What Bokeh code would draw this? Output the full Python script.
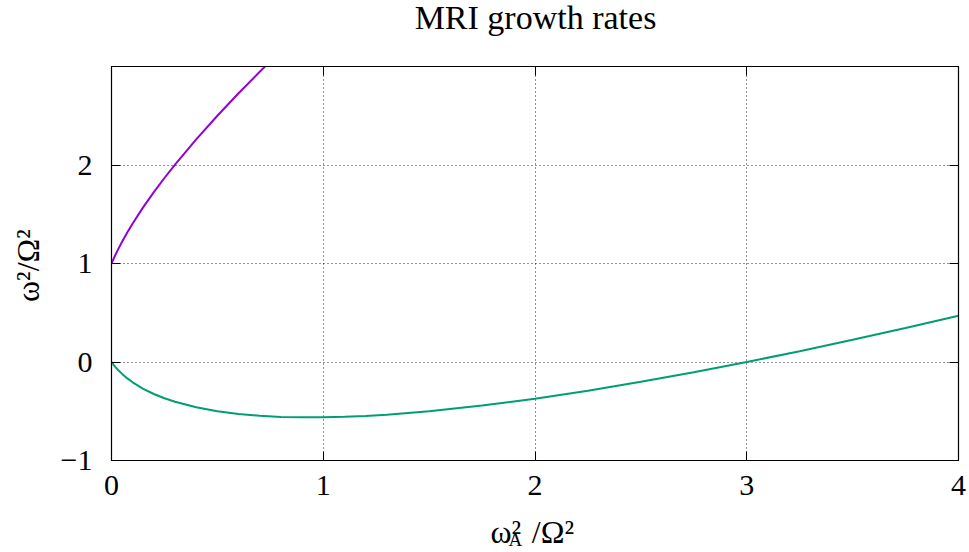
import math
from bokeh.plotting import figure
from bokeh.models import Range1d, FixedTicker, LinearAxis, Label
from bokeh.embed import file_html
from bokeh.resources import INLINE

# ---- data ----
x_upper = [0, 0.01, 0.02, 0.03, 0.05, 0.075, 0.1, 0.15, 0.2, 0.25, 0.3, 0.4, 0.5, 0.6, 0.7, 0.75]
y_upper = [1.0, 1.0485, 1.0945, 1.1383, 1.2208, 1.3166, 1.4062, 1.5720, 1.7247, 1.8680, 2.0042,
           2.2601, 2.5, 2.7279, 2.9464, 3.0528]

x_lower = [0, 0.01, 0.02, 0.03, 0.05, 0.075, 0.1, 0.15, 0.2, 0.25, 0.3, 0.4, 0.5, 0.6, 0.7, 0.8,
           0.9, 1.0, 1.1, 1.2, 1.3, 1.5, 1.75, 2.0, 2.25, 2.5, 2.75, 3.0, 3.25, 3.5, 3.75, 4.0]
y_lower = [0, -0.0285, -0.0545, -0.0783, -0.1208, -0.1666, -0.2062, -0.2720, -0.3247, -0.3680,
           -0.4042, -0.4601, -0.5, -0.5279, -0.5464, -0.5574, -0.5621, -0.5616, -0.5564, -0.5472,
           -0.5345, -0.5, -0.4426, -0.3723, -0.2914, -0.2016, -0.1041, 0.0, 0.1099, 0.2251,
           0.3449, 0.4689]

x_ticks = [0, 1, 2, 3, 4]
y_ticks = [-1, 0, 1, 2]
x_grid = [1, 2, 3]
y_grid = [0, 1, 2]

title_text = "MRI growth rates"
y_label_text = "\u03c9\u00b2/\u03a9\u00b2"
x_label_main = "\u03c9\u00b2\u2004/\u03a9\u00b2"
x_label_sub = "A"

FONT = "Liberation Serif"
X_MIN, X_MAX = 0, 4
Y_MIN, Y_MAX = -1, 3

W, H = 969, 552
BL, BR, BT, BB = 111, 11, 66, 92

p = figure(width=W, height=H, output_backend="svg", toolbar_location=None,
           x_range=Range1d(X_MIN, X_MAX), y_range=Range1d(Y_MIN, Y_MAX),
           min_border_left=BL, min_border_right=BR, min_border_top=BT, min_border_bottom=BB,
           background_fill_color="white", border_fill_color="white")
p.outline_line_color = "black"
p.outline_line_width = 1.2

# axes
for ax in list(p.xaxis) + list(p.yaxis):
    ax.major_tick_in = 9
    ax.major_tick_out = 0
    ax.minor_tick_in = 0
    ax.minor_tick_out = 0
    ax.axis_line_color = "black"
    ax.major_tick_line_color = "black"
    ax.major_label_text_font = FONT
    ax.major_label_text_font_size = "30px"
    ax.major_label_text_color = "black"

p.xaxis.ticker = FixedTicker(ticks=x_ticks)
p.yaxis.ticker = FixedTicker(ticks=y_ticks)
p.yaxis.major_label_overrides = {-1: "\u22121"}
p.xaxis.major_label_standoff = 15
p.yaxis.major_label_standoff = 19

# mirrored ticks (no labels) on top and right
top_ax = LinearAxis(ticker=FixedTicker(ticks=x_ticks), major_tick_in=9, major_tick_out=0,
                    minor_tick_in=0, minor_tick_out=0, major_label_text_font_size="0px",
                    major_label_text_color=None, major_label_standoff=0,
                    axis_line_color="black")
right_ax = LinearAxis(ticker=FixedTicker(ticks=y_ticks), major_tick_in=9, major_tick_out=0,
                      minor_tick_in=0, minor_tick_out=0, major_label_text_font_size="0px",
                      major_label_text_color=None, major_label_standoff=0,
                      axis_line_color="black")
p.add_layout(top_ax, "above")
p.add_layout(right_ax, "right")

# grid
p.xgrid.ticker = FixedTicker(ticks=x_grid)
p.ygrid.ticker = FixedTicker(ticks=y_grid)
for g in (p.xgrid[0], p.ygrid[0]):
    g.grid_line_color = "black"
    g.grid_line_alpha = 0.85
    g.grid_line_width = 1
    g.grid_line_dash = "1 3"

# curves
p.line(x_upper, y_upper, line_color="#9400D3", line_width=2)
p.line(x_lower, y_lower, line_color="#009E73", line_width=2)


def canvas_label(side, x, y, txt, size, align="left", angle=0.0, italic=False):
    p.add_layout(Label(x=x, y=y, x_units="canvas", y_units="canvas", text=txt,
                       text_align=align, text_baseline="alphabetic", text_font=FONT,
                       text_font_size=size, text_color="black", angle=angle,
                       text_font_style="italic" if italic else "normal"), side)


# title (top panel)
canvas_label("above", 535, 17, title_text, "34px", align="center")
# x-axis label: main part (bottom panel) and subscript A (top panel, drawn at bottom)
canvas_label("below", 490, 531, x_label_main, "32px")
canvas_label("above", 508, 539, x_label_sub, "19px")
# y-axis label, rotated (left panel)
canvas_label("left", 27, 265, y_label_text, "32px", align="center", angle=math.pi / 2)

open("out.html", "w").write(file_html(p, INLINE))
